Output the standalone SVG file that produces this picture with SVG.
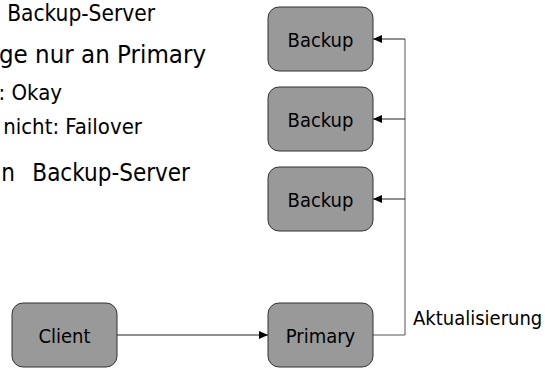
<svg xmlns="http://www.w3.org/2000/svg" width="545" height="368" viewBox="0 0 545 368">
  <style>
    .box { fill: #999999; stroke: #333333; stroke-width: 1; }
    .lbl { font-family: "DejaVu Sans Condensed", "DejaVu Sans", sans-serif; font-stretch: condensed; font-size: 20px; fill: #000; text-anchor: middle; }
    .txt { font-family: "DejaVu Sans Condensed", "DejaVu Sans", sans-serif; font-stretch: condensed; fill: #000; }
    .end { text-anchor: end; }
    .conn { fill: none; stroke: #222; stroke-width: 1; }
    .bus { fill: none; stroke: #555; stroke-width: 1; }
  </style>
  <defs>
    <marker id="arr" markerWidth="10" markerHeight="8" refX="9" refY="4" orient="auto" markerUnits="userSpaceOnUse">
      <path d="M0,0 L9,4 L0,8 Z" fill="#000"/>
    </marker>
  </defs>
  <rect width="545" height="368" fill="#ffffff"/>

  <g id="text-block">
    <text class="txt end" x="155" y="21" style="font-size:22.5px">Backup-Server</text>
    <text class="txt end" x="206" y="63" style="font-size:25.6px">ge nur an Primary</text>
    <text class="txt end" x="62" y="100" style="font-size:22px">: Okay</text>
    <text class="txt end" x="142" y="134" style="font-size:22px">nicht: Failover</text>
    <text class="txt end" y="181" style="font-size:24px"><tspan x="15">n</tspan><tspan x="190">Backup-Server</tspan></text>
  </g>

  <g id="connectors">
    <line class="conn" x1="117" y1="335" x2="268" y2="335" marker-end="url(#arr)"/>
    <polyline class="bus" points="373,335 405,335 405,39"/>
    <line class="conn" x1="405" y1="39" x2="373" y2="39" marker-end="url(#arr)"/>
    <line class="conn" x1="405" y1="119" x2="373" y2="119" marker-end="url(#arr)"/>
    <line class="conn" x1="405" y1="199" x2="373" y2="199" marker-end="url(#arr)"/>
    <text class="txt" x="413" y="325" style="font-size:20px">Aktualisierung</text>
  </g>

  <g id="backup1">
    <rect class="box" x="268" y="7" width="105" height="64" rx="11"/>
    <text class="lbl" x="320.5" y="47">Backup</text>
  </g>
  <g id="backup2">
    <rect class="box" x="268" y="87" width="105" height="64" rx="11"/>
    <text class="lbl" x="320.5" y="127">Backup</text>
  </g>
  <g id="backup3">
    <rect class="box" x="268" y="167" width="105" height="64" rx="11"/>
    <text class="lbl" x="320.5" y="207">Backup</text>
  </g>
  <g id="client">
    <rect class="box" x="12" y="303" width="105" height="64" rx="11"/>
    <text class="lbl" x="64.5" y="343">Client</text>
  </g>
  <g id="primary">
    <rect class="box" x="268" y="303" width="105" height="64" rx="11"/>
    <text class="lbl" x="320.5" y="343">Primary</text>
  </g>
</svg>
